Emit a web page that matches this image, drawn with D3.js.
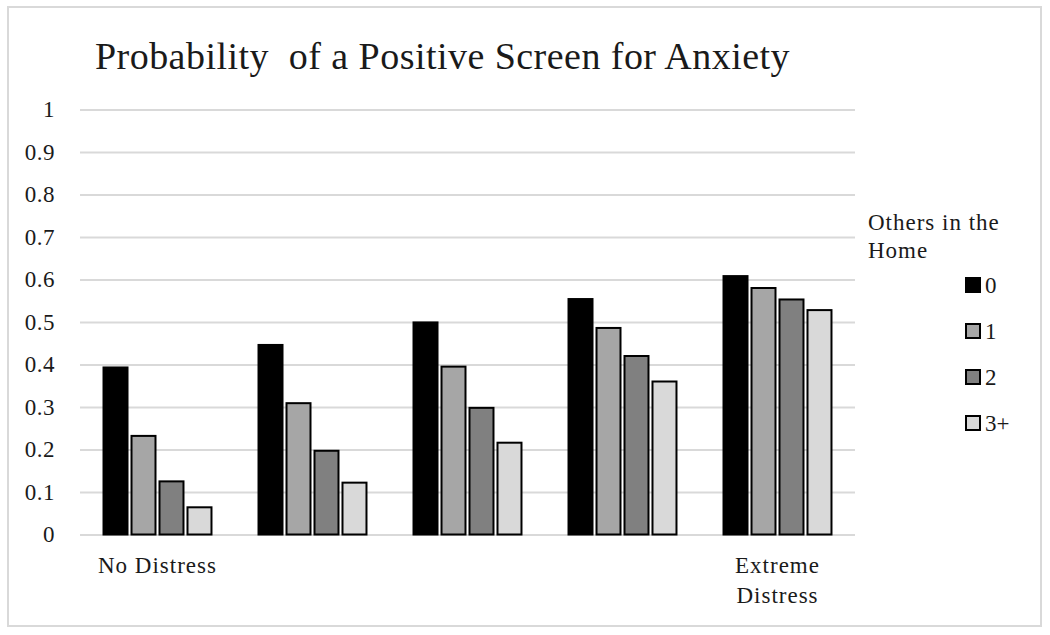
<!DOCTYPE html>
<html><head><meta charset="utf-8">
<script src="https://cdn.jsdelivr.net/npm/d3@7"></script>
<style>body{margin:0;background:#fff}svg{display:block}text{font-family:"Liberation Serif","Times New Roman",serif;fill:#1a1a1a}</style>
</head><body><svg id="c" width="1050" height="635"></svg>
<script>
const categories = ["No Distress", "", "", "", "Extreme Distress"];
const seriesNames = ["0", "1", "2", "3+"];
const series0 = [0.393, 0.446, 0.499, 0.554, 0.608];
const series1 = [0.232, 0.309, 0.395, 0.486, 0.580];
const series2 = [0.125, 0.197, 0.298, 0.420, 0.553];
const series3 = [0.064, 0.122, 0.216, 0.360, 0.528];
const yTicks = [0, 0.1, 0.2, 0.3, 0.4, 0.5, 0.6, 0.7, 0.8, 0.9, 1];
const colors = ["#000000", "#a6a6a6", "#808080", "#d9d9d9"];
const allSeries = [series0, series1, series2, series3];

const svg = d3.select("#c");
svg.append("rect").attr("x", 8).attr("y", 7).attr("width", 1033).attr("height", 619)
  .attr("fill", "#fff").attr("stroke", "#d9d9d9").attr("stroke-width", 2);

const pLeft = 80, pRight = 855, pTop = 109.5, pBottom = 534.5;
const x0 = d3.scaleBand().domain(d3.range(categories.length)).range([pLeft, pRight]).padding(0);
const x1 = d3.scaleBand().domain(d3.range(seriesNames.length)).range([0, x0.bandwidth()])
  .paddingInner(0.143).paddingOuter(0.84);
const y = d3.scaleLinear().domain([0, 1]).range([pBottom, pTop]);

svg.append("text").attr("x", 95).attr("y", 69).attr("font-size", 38)
  .style("white-space", "pre").attr("letter-spacing", 0.5)
  .attr("textLength", 695).attr("lengthAdjust", "spacing")
  .text("Probability  of a Positive Screen for Anxiety");

// grid
const yAxis = d3.axisLeft(y).tickValues(yTicks).tickSize(-(pRight - pLeft)).tickFormat(d => String(d)).tickPadding(25);
const ga = svg.append("g").attr("transform", `translate(${pLeft},0)`).call(yAxis);
ga.select(".domain").remove();
ga.selectAll(".tick line").attr("stroke", "#d9d9d9").attr("stroke-width", 2);
ga.selectAll(".tick text").attr("font-size", 23).attr("fill", "#1a1a1a").attr("letter-spacing", 0.5)
  .attr("font-family", '"Liberation Serif","Times New Roman",serif');

// bars
const groups = svg.append("g").selectAll("g").data(categories).join("g")
  .attr("transform", (d, i) => `translate(${x0(i)},0)`);
groups.selectAll("rect").data((d, i) => allSeries.map((s, j) => ({ j, v: s[i] }))).join("rect")
  .attr("x", d => x1(d.j)).attr("width", x1.bandwidth())
  .attr("y", d => y(d.v)).attr("height", d => y(0) - y(d.v))
  .attr("fill", d => colors[d.j]).attr("stroke", "#000").attr("stroke-width", 2);

// x labels
categories.forEach((c, i) => {
  if (!c) return;
  const cx = x0(i) + x0.bandwidth() / 2;
  const words = c === "Extreme Distress" ? ["Extreme", "Distress"] : [c];
  words.forEach((w, k) => {
    svg.append("text").attr("x", cx).attr("y", 573 + k * 30).attr("text-anchor", "middle")
      .attr("font-size", 23).attr("letter-spacing", 1).text(w);
  });
});

// legend
svg.append("text").attr("x", 868).attr("y", 230).attr("font-size", 23).attr("letter-spacing", 1).text("Others in the");
svg.append("text").attr("x", 868).attr("y", 258).attr("font-size", 23).attr("letter-spacing", 1).text("Home");
const lg = svg.append("g").selectAll("g").data(seriesNames).join("g")
  .attr("transform", (d, i) => `translate(966,${285 + i * 46})`);
lg.append("rect").attr("x", 0).attr("y", -7).attr("width", 14).attr("height", 14)
  .attr("fill", (d, i) => colors[i]).attr("stroke", "#000").attr("stroke-width", 2);
lg.append("text").attr("x", 19).attr("y", 8).attr("font-size", 23).text(d => d);
</script></body></html>
